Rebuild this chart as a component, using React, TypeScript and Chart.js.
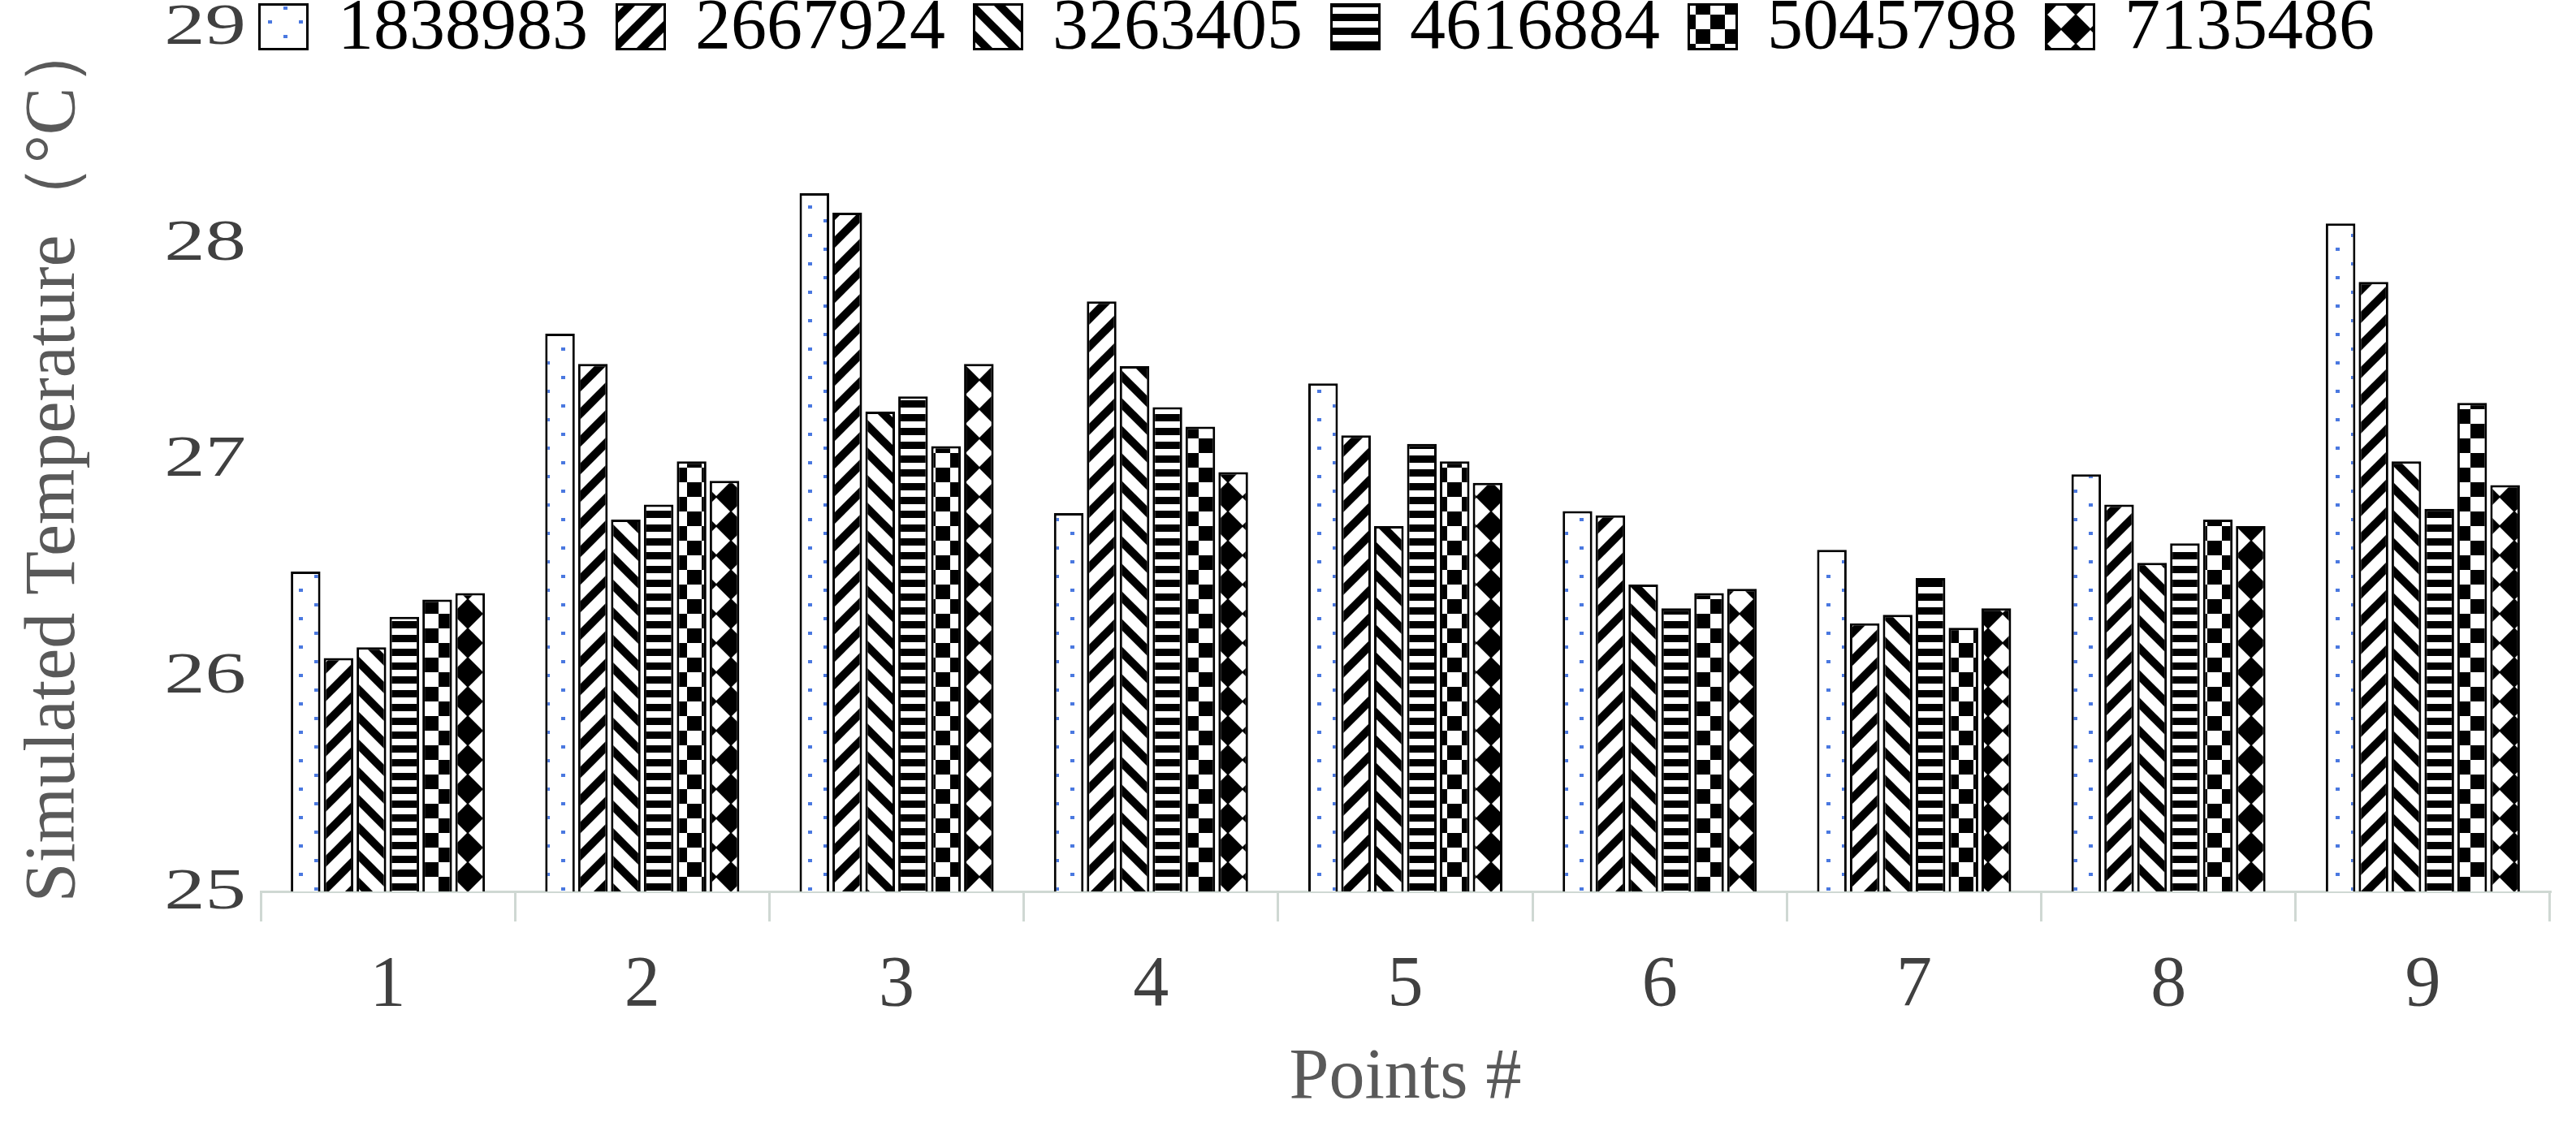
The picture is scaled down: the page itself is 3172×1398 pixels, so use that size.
import React, { useEffect, useRef } from "react";
import { Chart, registerables } from "chart.js";

Chart.register(...registerables);

// ---------- data ----------
const categories = ["1", "2", "3", "4", "5", "6", "7", "8", "9"];
const seriesLabels = ["1838983", "2667924", "3263405", "4616884", "5045798", "7135486"];
const s1838983 = [26.48, 27.58, 28.23, 26.75, 27.35, 26.76, 26.58, 26.93, 28.09];
const s2667924 = [26.08, 27.44, 28.14, 27.73, 27.11, 26.74, 26.24, 26.79, 27.82];
const s3263405 = [26.13, 26.72, 27.22, 27.43, 26.69, 26.42, 26.28, 26.52, 26.99];
const s4616884 = [26.27, 26.79, 27.29, 27.24, 27.07, 26.31, 26.45, 26.61, 26.77];
const s5045798 = [26.35, 26.99, 27.06, 27.15, 26.99, 26.38, 26.22, 26.72, 27.26];
const s7135486 = [26.38, 26.9, 27.44, 26.94, 26.89, 26.4, 26.31, 26.69, 26.88];
const seriesValues = [s1838983, s2667924, s3263405, s4616884, s5045798, s7135486];
const yTicks = [25, 26, 27, 28, 29];
const xTitle = "Points #";
const yTitle = "Simulated Temperature（°C）";

// ---------- style ----------
const FONT = "'Times New Roman', 'Liberation Serif', serif";
const FONT_SIZE = 88;
const AXIS_COLOR = "#cfd8d3";

function makePattern(kind: number): CanvasPattern | string {
  const c = document.createElement("canvas");
  const ctx = c.getContext("2d");
  if (!ctx) return "#fff";
  if (kind === 0) {
    c.width = 38; c.height = 35;
    ctx.fillStyle = "#fff"; ctx.fillRect(0, 0, 38, 35);
    ctx.fillStyle = "#4a78e0";
    ctx.fillRect(7, 8, 5, 4);
    ctx.fillRect(26, 25, 5, 4);
  } else if (kind === 1 || kind === 2) {
    const s = 34;
    c.width = s; c.height = s;
    ctx.fillStyle = "#fff"; ctx.fillRect(0, 0, s, s);
    ctx.strokeStyle = "#000"; ctx.lineWidth = 10;
    const lines = kind === 1
      ? [[-s, s * 2, s * 2, -s], [-s, s, s, -s], [0, s * 2, s * 2, 0]]
      : [[-s, -s, s * 2, s * 2], [-s, 0, s, s * 2], [0, -s, s * 2, s]];
    for (const [a, b, cc, d] of lines) {
      ctx.beginPath(); ctx.moveTo(a, b); ctx.lineTo(cc, d); ctx.stroke();
    }
  } else if (kind === 3) {
    c.width = 8; c.height = 17;
    ctx.fillStyle = "#fff"; ctx.fillRect(0, 0, 8, 17);
    ctx.fillStyle = "#000"; ctx.fillRect(0, 0, 8, 9);
  } else if (kind === 4) {
    c.width = 36; c.height = 36;
    ctx.fillStyle = "#fff"; ctx.fillRect(0, 0, 36, 36);
    ctx.fillStyle = "#000";
    ctx.fillRect(0, 0, 18, 18);
    ctx.fillRect(18, 18, 18, 18);
  } else {
    c.width = 36; c.height = 36;
    ctx.fillStyle = "#000"; ctx.fillRect(0, 0, 36, 36);
    ctx.fillStyle = "#fff";
    ctx.beginPath();
    ctx.moveTo(18, 1); ctx.lineTo(35, 18); ctx.lineTo(18, 35); ctx.lineTo(1, 18);
    ctx.closePath(); ctx.fill();
  }
  const p = ctx.createPattern(c, "repeat");
  return p || "#fff";
}

// legend drawn at the top row, next to the "29" tick label
const legendPlugin = {
  id: "customLegend",
  afterDraw(chart: any) {
    const ctx = chart.ctx as CanvasRenderingContext2D;
    const yc = 33;
    const boxW = 62, boxH = 58;
    let x = 318;
    ctx.save();
    ctx.font = `${FONT_SIZE}px ${FONT}`;
    ctx.textBaseline = "middle";
    ctx.textAlign = "left";
    chart.data.datasets.forEach((ds: any) => {
      ctx.fillStyle = ds.backgroundColor;
      ctx.fillRect(x, yc - boxH / 2, boxW, boxH);
      ctx.lineWidth = 3;
      ctx.strokeStyle = "#000";
      ctx.strokeRect(x + 1.5, yc - boxH / 2 + 1.5, boxW - 3, boxH - 3);
      ctx.fillStyle = "#000";
      const tx = x + boxW + 36;
      ctx.fillText(ds.label, tx, yc + 3);
      x = tx + ctx.measureText(ds.label).width + 34;
    });
    ctx.restore();
  },
};

// y tick labels, horizontally widened like the reference's lettering
const yLabelPlugin = {
  id: "wideYLabels",
  afterDraw(chart: any) {
    const ctx = chart.ctx as CanvasRenderingContext2D;
    const scale = chart.scales.y;
    ctx.save();
    ctx.font = `72px ${FONT}`;
    ctx.fillStyle = "#404040";
    ctx.textAlign = "right";
    ctx.textBaseline = "middle";
    for (const v of yTicks) {
      const y = scale.getPixelForValue(v);
      ctx.save();
      ctx.translate(303, y + 2);
      ctx.scale(1.4, 1);
      ctx.fillText(String(v), 0, 0);
      ctx.restore();
    }
    ctx.restore();
  },
};

export default function App() {
  const ref = useRef<HTMLCanvasElement | null>(null);
  useEffect(() => {
    if (!ref.current) return;
    const datasets = seriesLabels.map((label, i) => ({
      label,
      data: seriesValues[i],
      backgroundColor: makePattern(i) as any,
      borderColor: "#000",
      borderWidth: 3,
      borderSkipped: "bottom" as const,
      categoryPercentage: 0.776,
      barPercentage: 0.9,
    }));
    const chart = new Chart(ref.current, {
      type: "bar",
      data: { labels: categories, datasets },
      options: {
        animation: false,
        responsive: false,
        devicePixelRatio: 1,
        layout: { padding: { left: 0, right: 32, top: 33, bottom: 0 } },
        plugins: {
          legend: { display: false },
          tooltip: { enabled: false },
        },
        scales: {
          x: {
            grid: {
              display: true,
              drawOnChartArea: false,
              drawTicks: true,
              tickLength: 37,
              color: AXIS_COLOR,
              lineWidth: 3,
              offset: true,
            },
            border: { display: true, color: AXIS_COLOR, width: 3 },
            ticks: {
              font: { family: FONT, size: FONT_SIZE },
              color: "#404040",
              padding: 27,
              maxRotation: 0,
            },
            title: {
              display: true,
              text: xTitle,
              font: { family: FONT, size: FONT_SIZE },
              color: "#595959",
              padding: { top: 0, bottom: 16 },
            },
            afterFit: (s: any) => {
              s.height = 300;
              s.paddingLeft = 0;
              s.paddingRight = 0;
            },
          },
          y: {
            min: yTicks[0],
            max: yTicks[yTicks.length - 1],
            grid: { display: false, drawTicks: false },
            border: { display: false },
            afterBuildTicks: (s: any) => { s.ticks = yTicks.map((v) => ({ value: v })); },
            ticks: { display: false },
            title: {
              display: true,
              text: yTitle,
              font: { family: FONT, size: FONT_SIZE },
              color: "#595959",
              padding: { top: 15, bottom: 0 },
            },
            afterFit: (s: any) => {
              s.width = 321;
              s.paddingTop = 0;
              s.paddingBottom = 0;
            },
          },
        },
      },
      plugins: [legendPlugin, yLabelPlugin],
    });
    return () => chart.destroy();
  }, []);
  return (
    <div style={{ position: "fixed", left: 0, top: 0, width: 3172, height: 1398, background: "#fff" }}>
      <canvas ref={ref} width={3172} height={1398} style={{ display: "block", width: 3172, height: 1398 }} />
    </div>
  );
}
